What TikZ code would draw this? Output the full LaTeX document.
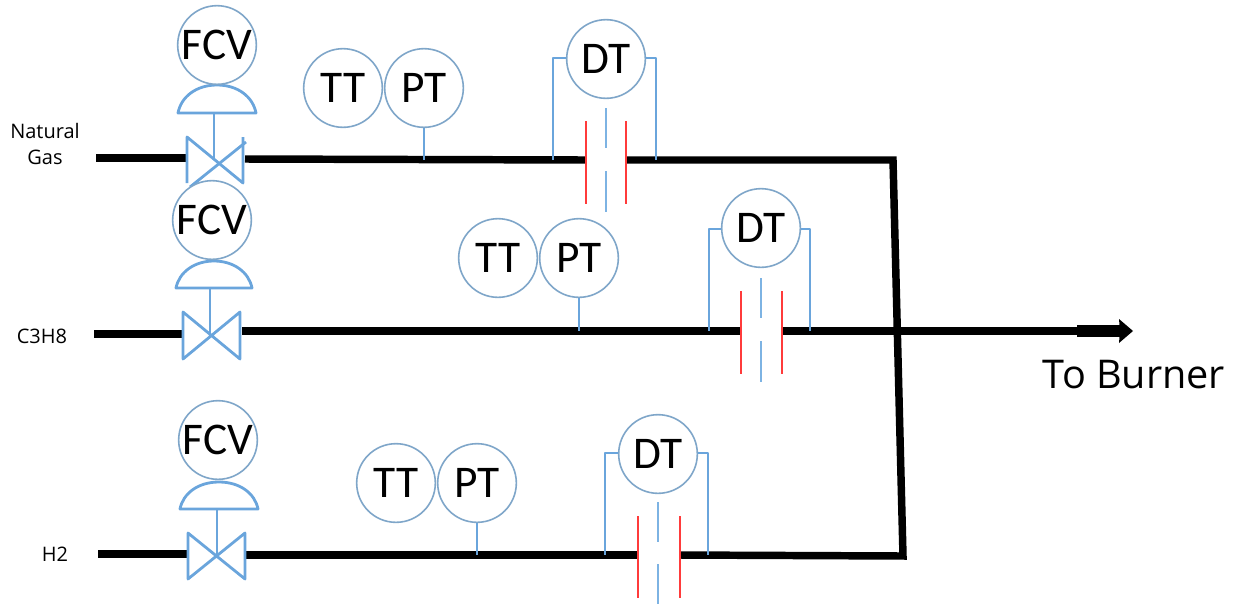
\documentclass[tikz,border=0pt]{standalone}
\usepackage{fontspec}
\setmainfont{Carlito}
\newfontfamily\labelfont{Open Sans}
\usetikzlibrary{arrows.meta}
\definecolor{ringblue}{HTML}{7FA6C9}
\definecolor{leadblue}{HTML}{6AA5DC}
\definecolor{paleblue}{HTML}{7DB3E3}
\definecolor{plate}{HTML}{FF3B3B}
\tikzset{
  inst/.style={circle,draw=ringblue,line width=1.2pt,fill=white,minimum size=59pt,inner sep=0pt,font=\fontsize{34}{34}\selectfont},
  pipe/.style={line width=5.6pt,black,line join=miter},
  lead/.style={leadblue,line width=2.1pt,line join=round},
  thinlead/.style={paleblue,line width=1pt},
  redplate/.style={plate,line width=1.1pt},
  tag/.style={font=\labelfont\fontsize{15}{19.5}\selectfont,inner sep=0pt,align=center},
  big/.style={font=\labelfont\fontsize{29.7}{30}\selectfont,inner sep=0pt}
}
\begin{document}
\begin{tikzpicture}[x=0.75pt,y=-0.75pt]
\useasboundingbox (0,0) rectangle (1238,604);
% pipe end points
\coordinate (ng0) at (96,158);
\coordinate (ng1) at (187,158);
\coordinate (ng2) at (245,159);
\coordinate (ngc) at (893,160);
\coordinate (c0) at (94,334);
\coordinate (c1) at (183,334);
\coordinate (c2) at (242,331);
\coordinate (cthick) at (1077,331);
\coordinate (cend) at (1133,331);
\coordinate (h0) at (98,554);
\coordinate (h1) at (188,554);
\coordinate (h2) at (245,555);
\coordinate (hc) at (903,556);
% orifice gaps
\coordinate (g1a) at (585,160);\coordinate (g1b) at (626,160);
\coordinate (g2a) at (740,331);\coordinate (g2b) at (782,331);
\coordinate (g3a) at (637,555);\coordinate (g3b) at (680,555);
\draw[pipe] (ng0) -- (ng1);
\draw[pipe] (ng2) -- (g1a);
\draw[pipe] (g1b) -- (ngc) -- (hc) -- (g3b);
\draw[pipe] (g3a) -- (h2);
\draw[pipe] (h0) -- (h1);
\draw[pipe] (c0) -- (c1);
\draw[pipe] (c2) -- (g2a);
\draw[pipe] (g2b) -- (cthick);
\draw[line width=9pt] (cthick) -- (1121,331);
\draw[fill=black,draw=none] (1119,319) -- (cend) -- (1119,343) -- (1120,331) -- cycle;
% valves and actuators
\foreach \n/\vx/\vy/\dl/\dr/\df/\dt in {a/214/160/178/256/113/85,b/210/336/176/252/288/261,c/217/556/180/258/509/482}{
  \coordinate (st\n) at (\vx,\df);
  \coordinate (ct\n) at (\vx,\vy);
  \draw[lead] (\dl,\df) .. controls (\dl+3,\df/2+\dt/2-2) and (\dl+18,\dt) .. (\dl/2+\dr/2,\dt) .. controls (\dr-18,\dt) and (\dr-3,\df/2+\dt/2-2) .. (\dr,\df) -- cycle;
  \draw[lead] (st\n) -- (ct\n);
}
\draw[lead] (187,183) -- (187,137) -- (243,183) -- (243,137);
\draw[lead] (246,142) -- (190,187);
\draw[lead] (183,359) -- (183,312) -- (240,359) -- (240,312) -- cycle;
\draw[lead] (188,579) -- (188,533) -- (245,579) -- (245,533) -- cycle;
% instruments
\node[inst] (fcv1) at (217,45) {FCV};
\node[inst] (fcv2) at (212,220) {FCV};
\node[inst] (fcv3) at (218,440) {FCV};
\node[inst] (tt1) at (343,88) {TT};
\node[inst] (pt1) at (424,88) {PT};
\node[inst] (tt2) at (498,258) {TT};
\node[inst] (pt2) at (579,258) {PT};
\node[inst] (tt3) at (396,483) {TT};
\node[inst] (pt3) at (477,483) {PT};
\node[inst] (dt1) at (606,59) {DT};
\node[inst] (dt2) at (761,228) {DT};
\node[inst] (dt3) at (658,454) {DT};
% taps
\coordinate (p1) at (424,160);\coordinate (p2) at (579,331);\coordinate (p3) at (477,555);
\draw[lead] (pt1) -- (p1);
\draw[lead] (pt2) -- (p2);
\draw[lead] (pt3) -- (p3);
\foreach \d/\lx/\rx/\y/\py in {dt1/553/656/58/160,dt2/709/810/229/331,dt3/605/708/453/555}{
  \draw[lead] (\d.west |- 0,\y) -- (\lx,\y) -- (\lx,\py);
  \draw[lead] (\d.east |- 0,\y) -- (\rx,\y) -- (\rx,\py);
}
% orifice plates
\foreach \l/\r/\c/\ya/\yb/\yc/\yd/\ye/\yf in {586/626/606/121/204/108/148/171/212,741/782/761/291/374/278/318/341/382,638/680/658/516/598/502/542/564/604}{
  \draw[redplate] (\l,\ya) -- (\l,\yb);
  \draw[redplate] (\r,\ya) -- (\r,\yb);
  \draw[thinlead] (\c,\yc) -- (\c,\yd);
  \draw[thinlead] (\c,\ye) -- (\c,\yf);
}
% labels
\node[tag] (lng) at (45,144) {Natural\\Gas};
\node[tag] (lc) at (42,336) {C3H8};
\node[tag] (lh) at (55,554) {H2};
\node[big] (burner) at (1134,375) {To Burner};
\end{tikzpicture}
\end{document}
